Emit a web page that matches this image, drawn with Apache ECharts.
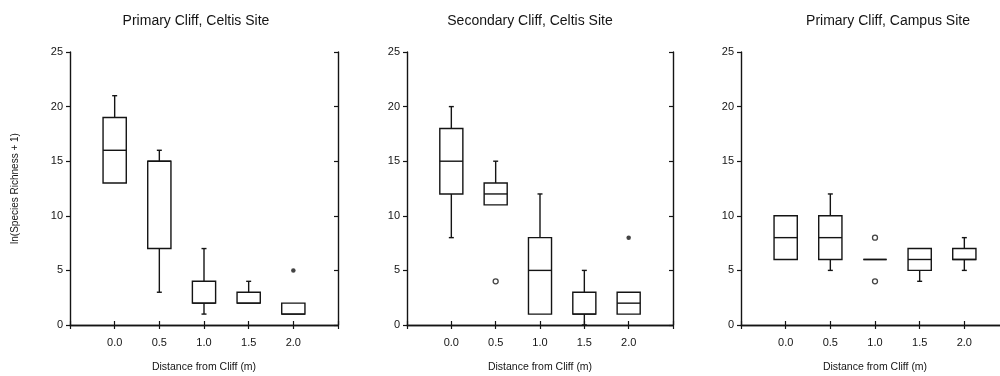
<!DOCTYPE html>
<html>
<head>
<meta charset="utf-8">
<script src="https://cdn.jsdelivr.net/npm/echarts@6/dist/echarts.min.js"></script>
<style>
  html, body { margin: 0; padding: 0; background: #fff; }
  #chart { width: 1000px; height: 376px; }
</style>
</head>
<body>
<div id="chart"></div>
<script>
// distance categories, padded with a blank slot at each end
const distances = ['', '0.0', '0.5', '1.0', '1.5', '2.0', '']

const panelTitles = [
  'Primary Cliff, Celtis Site',
  'Secondary Cliff, Celtis Site',
  'Primary Cliff, Campus Site'
]

// [low whisker, Q1, median, Q3, high whisker] for 0.0 .. 2.0 m
const primaryCeltis = [
  [13, 13, 16, 19, 21],
  [3, 7, 15, 15, 16],
  [1, 2, 2, 4, 7],
  [2, 2, 2, 3, 4],
  [1, 1, 1, 2, 2]
]
const secondaryCeltis = [
  [8, 12, 15, 18, 20],
  [11, 11, 12, 13, 15],
  [1, 1, 5, 8, 12],
  [0, 1, 1, 3, 5],
  [1, 1, 2, 3, 3]
]
const primaryCampus = [
  [6, 6, 8, 10, 10],
  [5, 6, 8, 10, 12],
  [6, 6, 6, 6, 6],
  [4, 5, 6, 7, 7],
  [5, 6, 6, 7, 8]
]

// outliers: filled dots and open circles
const primaryCeltisFilled = [['2.0', 5]]
const primaryCeltisOpen = []
const secondaryCeltisFilled = [['2.0', 8]]
const secondaryCeltisOpen = [['0.5', 4]]
const primaryCampusFilled = []
const primaryCampusOpen = [['1.0', 8], ['1.0', 4]]

const yTicks = [0, 5, 10, 15, 20, 25]

const ink = '#141414'
const font = '"Liberation Sans", Arial, sans-serif'

const panels = [
  { title: panelTitles[0], boxes: primaryCeltis, filled: primaryCeltisFilled, open: primaryCeltisOpen, left: 70, width: 268, titleX: 191 },
  { title: panelTitles[1], boxes: secondaryCeltis, filled: secondaryCeltisFilled, open: secondaryCeltisOpen, left: 407, width: 266, titleX: 525 },
  { title: panelTitles[2], boxes: primaryCampus, filled: primaryCampusFilled, open: primaryCampusOpen, left: 741, width: 268, titleX: 883 }
]

function renderBox(params, api) {
  const x = api.value(0)
  const low = api.coord([x, api.value(1)])
  const q1 = api.coord([x, api.value(2)])
  const med = api.coord([x, api.value(3)])
  const q3 = api.coord([x, api.value(4)])
  const high = api.coord([x, api.value(5)])
  const half = api.size([1, 0])[0] * 0.26
  const cap = 2.5
  const cx = q1[0]
  const line = { stroke: ink, lineWidth: 1.4, fill: null }
  const children = []
  if (high[1] < q3[1]) {
    children.push({ type: 'line', shape: { x1: cx, y1: q3[1], x2: cx, y2: high[1] }, style: line })
    children.push({ type: 'line', shape: { x1: cx - cap, y1: high[1], x2: cx + cap, y2: high[1] }, style: line })
  }
  if (low[1] > q1[1]) {
    children.push({ type: 'line', shape: { x1: cx, y1: q1[1], x2: cx, y2: low[1] }, style: line })
    children.push({ type: 'line', shape: { x1: cx - cap, y1: low[1], x2: cx + cap, y2: low[1] }, style: line })
  }
  children.push({
    type: 'rect',
    shape: { x: cx - half, y: q3[1], width: half * 2, height: q1[1] - q3[1] },
    style: { stroke: ink, lineWidth: 1.4, fill: '#fff' }
  })
  children.push({ type: 'line', shape: { x1: cx - half, y1: med[1], x2: cx + half, y2: med[1] }, style: line })
  return { type: 'group', children }
}

const grid = []
const xAxis = []
const yAxis = []
const series = []
const title = []

panels.forEach((p, i) => {
  grid.push({ left: p.left, top: 52, width: p.width, height: 273, outerBoundsMode: 'none', containLabel: false })
  title.push({
    text: p.title,
    left: p.titleX,
    top: 9,
    textAlign: 'center',
    textStyle: { fontFamily: font, fontSize: 14, fontWeight: 'normal', color: ink }
  })
  // bottom and top category axes
  xAxis.push({
    gridIndex: i,
    type: 'category',
    data: distances,
    boundaryGap: false,
    axisLine: { lineStyle: { color: ink, width: 1.4 } },
    axisTick: { inside: true, length: 4, lineStyle: { color: ink, width: 1.2 } },
    axisLabel: { color: ink, fontFamily: font, fontSize: 11, margin: 12 },
    name: 'Distance from Cliff (m)',
    nameLocation: 'middle',
    nameGap: 37,
    nameTextStyle: { color: ink, fontFamily: font, fontSize: 10.5 }
  })
  xAxis.push({
    gridIndex: i,
    type: 'category',
    position: 'top',
    data: distances,
    boundaryGap: false,
    axisLine: { lineStyle: { color: ink, width: 1.4 } },
    axisTick: { inside: true, length: 4, lineStyle: { color: ink, width: 1.2 } },
    axisLabel: { show: false }
  })
  // left and right value axes
  yAxis.push({
    gridIndex: i,
    type: 'value',
    min: yTicks[0],
    max: yTicks[yTicks.length - 1],
    interval: 5,
    axisLine: { show: true, lineStyle: { color: ink, width: 1.4 } },
    axisTick: { show: true, length: 4, lineStyle: { color: ink, width: 1.2 } },
    axisLabel: { color: ink, fontFamily: font, fontSize: 11, margin: 7 },
    splitLine: { show: false },
    name: i === 0 ? 'ln(Species Richness + 1)' : '',
    nameLocation: 'middle',
    nameGap: 50,
    nameTextStyle: { color: ink, fontFamily: font, fontSize: 10 }
  })
  yAxis.push({
    gridIndex: i,
    type: 'value',
    position: 'right',
    min: yTicks[0],
    max: yTicks[yTicks.length - 1],
    interval: 5,
    axisLine: { show: true, lineStyle: { color: ink, width: 1.4 } },
    axisTick: { show: true, inside: true, length: 4, lineStyle: { color: ink, width: 1.2 } },
    axisLabel: { show: false },
    splitLine: { show: false }
  })

  series.push({
    type: 'custom',
    xAxisIndex: i * 2,
    yAxisIndex: i * 2,
    renderItem: renderBox,
    encode: { x: 0, y: [1, 2, 3, 4, 5] },
    data: p.boxes.map((b, k) => [distances[k + 1]].concat(b)),
    silent: true
  })
  series.push({
    type: 'scatter',
    xAxisIndex: i * 2,
    yAxisIndex: i * 2,
    symbol: 'circle',
    symbolSize: 4.5,
    itemStyle: { color: ink },
    data: p.filled,
    silent: true
  })
  series.push({
    type: 'scatter',
    xAxisIndex: i * 2,
    yAxisIndex: i * 2,
    symbol: 'circle',
    symbolSize: 5,
    itemStyle: { color: '#fff', borderColor: ink, borderWidth: 1.3 },
    data: p.open,
    silent: true
  })
})

const chart = echarts.init(document.getElementById('chart'))
chart.setOption({
  animation: false,
  backgroundColor: '#fff',
  title,
  grid,
  xAxis,
  yAxis,
  series
})
</script>
</body>
</html>
